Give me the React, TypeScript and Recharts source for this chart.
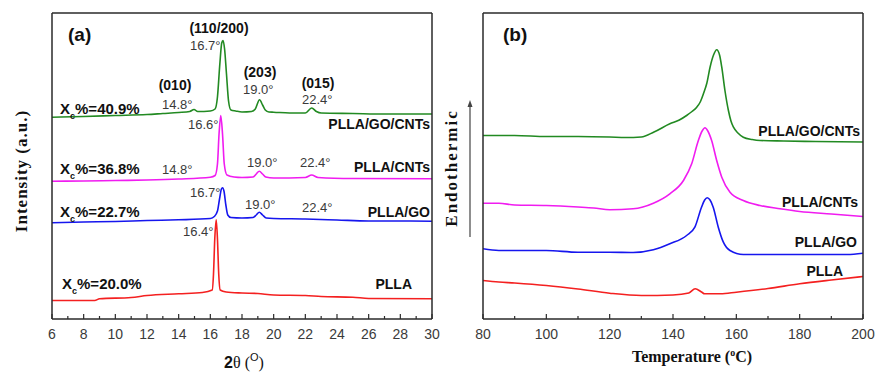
import React from 'react'
import { LineChart, Line, XAxis, YAxis } from 'recharts'

// ---- panel (a): XRD, 2θ in degrees, intensity in arbitrary (offset) units ----
const xrdRedX = [6, 8.7, 9, 11, 12, 14, 15.5, 16.12, 16.2, 16.28, 16.37, 16.45, 16.53, 16.62, 17, 18, 19, 20, 22, 23, 25, 26, 30]
const xrdRedY = [18.5, 18.5, 20.2, 21.5, 23.5, 25.2, 26.5, 29, 45, 80, 99.2, 80, 45, 29, 27, 26, 25.5, 24, 23.5, 22.5, 21.8, 20.5, 20.2]

const xrdBlueX = [6, 8, 10, 12, 14, 16, 16.25, 16.45, 16.58, 16.7, 16.77, 16.86, 16.98, 17.1, 17.3, 18, 18.7, 18.9, 19.09, 19.3, 19.53, 20, 22, 24, 26, 28, 30]
const xrdBlueY = [96.2, 97, 97.5, 98.5, 99.2, 100.5, 102.5, 108, 120, 130, 131.2, 128, 114, 104, 101.5, 101, 101.5, 104, 106.8, 104, 101, 100.5, 100, 99, 98, 98, 97.8]

const xrdMagX = [6, 8, 10, 12, 14, 16, 16.3, 16.45, 16.55, 16.66, 16.77, 16.88, 17.05, 17.5, 18, 18.7, 18.9, 19.09, 19.3, 19.5, 20, 22, 22.4, 22.8, 25, 30]
const xrdMagY = [137.8, 138, 138.5, 139, 140, 141.8, 143.5, 155, 185, 203.5, 185, 155, 144, 142, 141.5, 142, 145, 147.8, 145, 142, 141, 141.5, 144, 141.5, 140.5, 140.2]

const xrdGreenX = [6, 8, 10, 12, 13, 14, 14.7, 14.97, 15.2, 16, 16.3, 16.45, 16.6, 16.72, 16.8, 16.9, 17.02, 17.15, 17.3, 17.6, 18, 18.6, 18.84, 19.11, 19.3, 19.47, 19.7, 20, 21, 22, 22.4, 22.7, 23, 25, 27, 30]
const xrdGreenY = [201.8, 202.5, 203.5, 204.5, 205.5, 206.5, 207.5, 209.5, 207.5, 208, 210, 222, 255, 276, 278.5, 270, 245, 218, 209, 208, 207, 207.5, 210, 219.2, 214, 209, 207, 206.8, 206, 206, 211, 207.5, 206, 205.5, 205, 205]

const xrdTicks = [6, 7, 8, 9, 10, 11, 12, 13, 14, 15, 16, 17, 18, 19, 20, 21, 22, 23, 24, 25, 26, 27, 28, 29, 30]

// ---- panel (b): DSC, temperature in °C, heat flow in arbitrary (offset) units ----
const dscRedT = [80, 85, 90, 100, 110, 120, 130, 140, 145, 147, 149, 150, 155, 160, 170, 180, 190, 200]
const dscRedY = [38.5, 37, 36, 33.5, 30, 25.8, 23.5, 24, 26, 30.2, 27, 25.2, 25.2, 26.8, 30.5, 35.2, 39, 42.5]

const dscBlueT = [80, 85, 100, 110, 120, 127.4, 133.8, 139, 144.3, 146.9, 149, 150, 150.8, 151.7, 152.7, 154.3, 155.9, 158, 162.2, 165, 180, 195, 200]
const dscBlueY = [70.2, 68.5, 68.5, 66.8, 66.8, 66.5, 69.2, 75.2, 83.5, 91.8, 111.8, 119, 121.2, 119, 111.8, 91.8, 76.8, 68.5, 64.5, 64.5, 64.5, 64.5, 65.8]

const dscMagT = [80, 85, 90, 100, 110, 115, 120, 127.4, 133.8, 139, 143.3, 145.9, 148, 149.2, 150.1, 151, 152.2, 153.8, 155.4, 158, 162.2, 167.5, 173.8, 180, 190, 200]
const dscMagY = [115.8, 115.8, 114, 113.5, 112, 111, 109.2, 110.2, 115.8, 125.2, 138.5, 155.2, 178.5, 188, 191.2, 188, 178.5, 158.5, 141.8, 126.8, 118.5, 113.5, 110.2, 107.5, 105, 102.5]

const dscGreenT = [80, 90, 100, 110, 120, 125, 130, 134, 139, 142, 144.3, 146, 147.5, 148.6, 149.6, 150.7, 151.7, 152.8, 153.8, 154.7, 155.4, 156.4, 157.5, 158.3, 159.1, 160.5, 162.2, 165, 167.5, 175, 185, 200]
const dscGreenY = [183.5, 183.5, 182.5, 182.5, 182, 181.5, 182, 187, 195.2, 199, 203.5, 207.5, 211.8, 217, 225.2, 236, 251.8, 264, 269.2, 264, 251.8, 228.5, 208.5, 198, 191.8, 186, 181.8, 179.5, 178.5, 178, 177.5, 177]

const dscTicks = [80, 90, 100, 110, 120, 130, 140, 150, 160, 170, 180, 190, 200]

const GREEN = '#228a22'
const MAGENTA = '#f01cf0'
const BLUE = '#1616ee'
const RED = '#f42020'
const FRAME = '#2a2a2a'
const SANS = '"Liberation Sans", Arial, sans-serif'
const SERIF = '"Liberation Serif", "Times New Roman", serif'

const pts = (xs: number[], ys: number[]) => xs.map((x, i) => ({ x, y: ys[i] }))

// inward tick marks, label only on the major ones
const makeTick = (step: number) => (props: any) => {
    const { x, y, payload } = props
    const major = payload.value % step === 0
    return (
        <g>
            <line x1={x} x2={x} y1={y} y2={y - (major ? 5 : 3)} stroke={FRAME} strokeWidth={1.2} />
            {major && (
                <text x={x} y={y + 20} textAnchor="middle" fontSize={14} fill="#3a3a3a" fontFamily={SANS}>
                    {payload.value}
                </text>
            )}
        </g>
    )
}

// box frame: the four axes, each 1px thick (0 would not be drawn)
const Frame = ({ domain, ticks, step }: { domain: [number, number]; ticks: number[]; step: number }) => [
    <XAxis
        key="xb"
        type="number"
        dataKey="x"
        domain={domain}
        ticks={ticks}
        interval={0}
        height={1}
        tickSize={0}
        tickMargin={0}
        tickLine={false}
        axisLine={{ stroke: FRAME, strokeWidth: 1.5 }}
        tick={makeTick(step)}
        allowDataOverflow
    />,
    <XAxis key="xt" xAxisId="top" orientation="top" type="number" domain={domain} height={1} tick={false} tickLine={false} axisLine={{ stroke: FRAME, strokeWidth: 1.5 }} />,
    <YAxis key="yl" type="number" domain={[0, 306]} width={1} tick={false} tickLine={false} axisLine={{ stroke: FRAME, strokeWidth: 1.5 }} />,
    <YAxis key="yr" yAxisId="right" orientation="right" type="number" domain={[0, 306]} width={1} tick={false} tickLine={false} axisLine={{ stroke: FRAME, strokeWidth: 1.5 }} />,
]

const series = (data: { x: number; y: number }[], color: string, key: string) => (
    <Line key={key} data={data} dataKey="y" type="monotone" stroke={color} strokeWidth={1.6} dot={false} isAnimationActive={false} />
)

const Deg = ({ x, y, t }: { x: number; y: number; t: string }) => (
    <text x={x} y={y} fontSize={13} fill="#3a3a3a" fontFamily={SANS}>{t}°</text>
)

const Bold = ({ x, y, t, anchor = 'start', size = 14 }: { x: number; y: number; t: string; anchor?: any; size?: number }) => (
    <text x={x} y={y} textAnchor={anchor} fontSize={size} fontWeight="bold" fill="#111" fontFamily={SANS}>{t}</text>
)

const Xc = ({ x, y, v }: { x: number; y: number; v: string }) => (
    <text x={x} y={y} fontSize={15} fontWeight="bold" fill="#111" fontFamily={SANS}>
        X<tspan dy={5} fontSize={9}>c</tspan><tspan dy={-5}>%={v}%</tspan>
    </text>
)

export default function App() {
    return (
        <div style={{ position: 'absolute', left: 0, top: 0, width: 875, height: 375, background: '#fff' }}>
            <div style={{ position: 'absolute', left: 0, top: 0 }}>
                <LineChart width={440} height={375} margin={{ top: 12, right: 7, bottom: 55, left: 51 }}>
                    {Frame({ domain: [6, 30], ticks: xrdTicks, step: 2 })}
                    {series(pts(xrdRedX, xrdRedY), RED, 'r')}
                    {series(pts(xrdBlueX, xrdBlueY), BLUE, 'b')}
                    {series(pts(xrdMagX, xrdMagY), MAGENTA, 'm')}
                    {series(pts(xrdGreenX, xrdGreenY), GREEN, 'g')}
                </LineChart>
            </div>
            <div style={{ position: 'absolute', left: 440, top: 0 }}>
                <LineChart width={435} height={375} margin={{ top: 12, right: 11, bottom: 55, left: 42 }}>
                    {Frame({ domain: [80, 200], ticks: dscTicks, step: 20 })}
                    {series(pts(dscRedT, dscRedY), RED, 'r')}
                    {series(pts(dscBlueT, dscBlueY), BLUE, 'b')}
                    {series(pts(dscMagT, dscMagY), MAGENTA, 'm')}
                    {series(pts(dscGreenT, dscGreenY), GREEN, 'g')}
                </LineChart>
            </div>
            <svg width={875} height={375} style={{ position: 'absolute', left: 0, top: 0, pointerEvents: 'none' }}>
                {/* panel (a) annotations */}
                <Bold x={68} y={41} t="(a)" size={19} />
                <Bold x={219} y={33} t="(110/200)" anchor="middle" />
                <Deg x={190} y={50} t="16.7" />
                <Bold x={175} y={90} t="(010)" anchor="middle" />
                <Deg x={162} y={109} t="14.8" />
                <Bold x={260} y={77} t="(203)" anchor="middle" />
                <Deg x={243} y={94} t="19.0" />
                <Bold x={318} y={88} t="(015)" anchor="middle" />
                <Deg x={302} y={104} t="22.4" />
                <Xc x={60} y={114} v="40.9" />
                <Bold x={430} y={129} t="PLLA/GO/CNTs" anchor="end" />

                <Deg x={188} y={129} t="16.6" />
                <Xc x={60} y={174} v="36.8" />
                <Deg x={162} y={174} t="14.8" />
                <Deg x={247} y={167} t="19.0" />
                <Deg x={300} y={167} t="22.4" />
                <Bold x={430} y={172} t="PLLA/CNTs" anchor="end" />

                <Deg x={190} y={197} t="16.7" />
                <Xc x={60} y={217} v="22.7" />
                <Deg x={245} y={209} t="19.0" />
                <Deg x={302} y={212} t="22.4" />
                <Bold x={430} y={217} t="PLLA/GO" anchor="end" />

                <Deg x={183} y={236} t="16.4" />
                <Xc x={62} y={289} v="20.0" />
                <Bold x={412} y={289} t="PLLA" anchor="end" />

                <text transform="translate(27,171) rotate(-90)" textAnchor="middle" fontSize={17} fontWeight="bold" letterSpacing={1} fill="#111" fontFamily={SERIF}>
                    Intensity (a.u.)
                </text>
                <text x={244} y={368} textAnchor="middle" fontSize={16} fill="#111">
                    <tspan fontFamily={SANS} fontWeight="bold">2</tspan>
                    <tspan fontFamily={SERIF}>θ (</tspan>
                    <tspan fontFamily={SANS} fontSize={11} dy={-7}>O</tspan>
                    <tspan fontFamily={SERIF} dy={7}>)</tspan>
                </text>

                {/* panel (b) annotations */}
                <Bold x={503} y={41} t="(b)" size={19} />
                <Bold x={860} y={136} t="PLLA/GO/CNTs" anchor="end" />
                <Bold x={858} y={207} t="PLLA/CNTs" anchor="end" />
                <Bold x={857} y={247} t="PLLA/GO" anchor="end" />
                <Bold x={843} y={276} t="PLLA" anchor="end" />

                <line x1={470} x2={470} y1={237} y2={104} stroke="#444" strokeWidth={1.2} />
                <polygon points="470,100 467.5,107 472.5,107" fill="#444" />
                <text transform="translate(457,168) rotate(-90)" textAnchor="middle" fontSize={17} fontWeight="bold" letterSpacing={2} fill="#111" fontFamily={SERIF}>
                    Endothermic
                </text>
                <text x={692} y={362} textAnchor="middle" fontSize={16} fontWeight="bold" fill="#111" fontFamily={SERIF}>
                    Temperature (<tspan fontSize={10} dy={-6}>o</tspan><tspan dy={6}>C)</tspan>
                </text>
            </svg>
        </div>
    )
}
